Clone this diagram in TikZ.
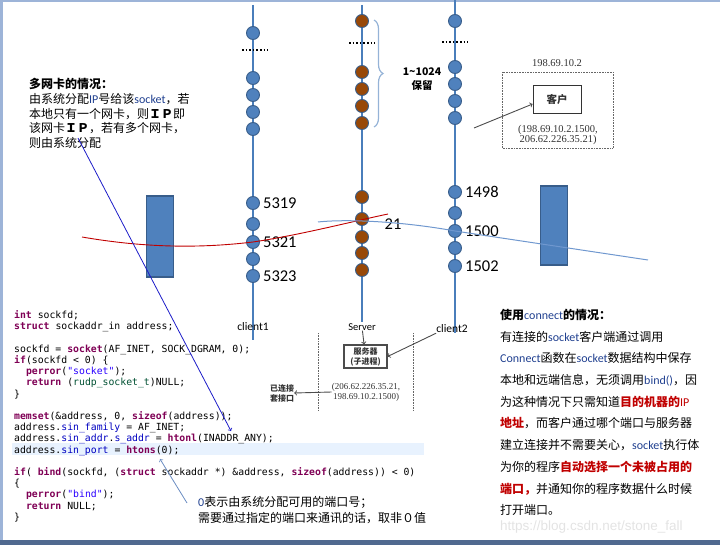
\documentclass[tikz,border=0pt]{standalone}
\usepackage{fontspec}
\setmainfont{Carlito}
\setmonofont{DejaVu Sans Mono}
\newfontfamily\cjk{Noto Sans CJK SC}
\newfontfamily\lat{Carlito}
\newfontfamily\wmfont{Liberation Sans}
\newfontfamily\scanserif{Liberation Serif}
\usetikzlibrary{positioning,decorations.pathreplacing}

\definecolor{portblue}{HTML}{4F81BD}
\definecolor{portedge}{HTML}{385D8A}
\definecolor{portbrown}{HTML}{984807}
\definecolor{colline}{HTML}{4A7EBB}
\definecolor{bracecol}{HTML}{95B3D7}
\definecolor{linkblue}{HTML}{7098CF}
\definecolor{nicred}{HTML}{C00000}
\definecolor{pointblue}{HTML}{1C1CC8}
\definecolor{steelarrow}{HTML}{6A8CC2}
\definecolor{kwpurple}{HTML}{7F0055}
\definecolor{strblue}{HTML}{2A00FF}
\definecolor{fieldblue}{HTML}{0000C0}
\definecolor{typegreen}{HTML}{005032}
\definecolor{hlrow}{HTML}{E8F2FE}
\definecolor{latinblue}{HTML}{1F3F8F}
\definecolor{framelight}{HTML}{9DB4D8}
\definecolor{framedark}{HTML}{50698F}

\newcommand\kw[1]{\textbf{\color{kwpurple}#1}}
\newcommand\strlit[1]{\textcolor{strblue}{#1}}
\newcommand\fld[1]{\textcolor{fieldblue}{#1}}
\newcommand\typ[1]{\textcolor{typegreen}{#1}}
\newcommand\en[1]{{\lat\color{latinblue}#1}}
\newcommand\warn[1]{{\bfseries\color{nicred}#1}}

\tikzset{
  port/.style={circle, draw=portedge, fill=portblue, line width=0.9pt, minimum size=13pt, inner sep=0pt},
  resv/.style={port, fill=portbrown},
  col/.style={draw=colline, line width=1.1pt},
  gapdots/.style={line width=1.6pt, dotted, black},
  num/.style={font=\fontsize{16.5}{18}\selectfont, inner sep=0pt},
  tag/.style={font=\fontsize{11.5}{13}\selectfont, inner sep=0pt},
  scan/.style={font=\cjk\bfseries\fontsize{8}{10}\selectfont, text=black!80, align=center, inner sep=0pt},
  note/.style={font=\cjk\fontsize{12}{14.8}\selectfont, align=left, inner sep=0pt},
  nic/.style={draw=portedge, fill=portblue, line width=1.2pt, minimum width=27pt, inner sep=0pt},
  grayarrow/.style={->, draw=black!70, line width=0.9pt},
  scandots/.style={draw=black!60, densely dotted, line width=0.6pt},
}

\begin{document}
\begin{tikzpicture}[x=1pt, y=-1pt]
\useasboundingbox (0,0) rectangle (720,545);

% frame
\fill[framelight] (0,0) rectangle (720,2);
\fill[framelight] (0,0) rectangle (3,545);
\fill[framedark] (0,540) rectangle (720,545);

% port columns
\coordinate (catop) at (253,5);
\coordinate (cabot) at (253,340);
\coordinate (svtop) at (362,5);
\coordinate (svbot) at (362,322);
\coordinate (cbtop) at (455,0);
\coordinate (cbbot) at (455,333);
\draw[col] (catop) -- (cabot);
\draw[col] (svtop) -- (svbot);
\draw[col] (cbtop) -- (cbbot);

\foreach \y [count=\i] in {33,78,95,112,129,203,224,242,259,276}
  \node[port] (ca\i) at (253,\y) {};
\foreach \y [count=\i] in {21,72,89,106,123,197,219,237,253,270}
  \node[resv] (sv\i) at (362,\y) {};
\foreach \y [count=\i] in {21,67,84,101,118,192,213,231,248,266}
  \node[port] (cb\i) at (455,\y) {};

\draw[gapdots] (242,50) -- (268,50);
\draw[gapdots] (349,43) -- (375,43);
\draw[gapdots] (442,42) -- (468,42);

% port numbers
\node[num, right=3pt of ca6] (n5319) {5319};
\node[num, right=3pt of ca8] (n5321) {5321};
\node[num, right=3pt of ca10] (n5323) {5323};
\node[num, right=3pt of cb6] (n1498) {1498};
\node[num, right=3pt of cb8] (n1500) {1500};
\node[num, right=3pt of cb10] (n1502) {1502};
\node[num] (n21) at (393,224) {21};

% reserved range
\coordinate (brtop) at (374,20);
\coordinate (brbot) at (374,127);
\draw[bracecol, line width=1.2pt, decorate, decoration={brace, amplitude=9pt}] (brtop) -- (brbot);
\node[font=\cjk\bfseries\fontsize{10.5}{14}\selectfont, align=center, inner sep=0pt] (resvtxt) at (422,79) {1\textasciitilde 1024\\保留};

% column tags
\node[tag] (cl1tag) at (253,327) {client1};
\node[tag, font=\fontsize{10.5}{12}\selectfont] (srvtag) at (362,327) {Server};
\node[tag] (cl2tag) at (452,329) {client2};

% network cards
\node[nic, minimum height=81pt] (nicA) at (160,236.5) {};
\node[nic, minimum height=79pt] (nicB) at (554,225.5) {};

% links
\coordinate (rA) at (82,237);
\coordinate (rB) at (388,214);
\draw[nicred, line width=0.9pt] (rA) .. controls (140,247) and (195,249) .. (ca8.center)
  .. controls (300,235) and (350,222) .. (rB);
\coordinate (bA) at (318,222);
\coordinate (bB) at (648,260);
\draw[linkblue, line width=1pt] (bA) .. controls (345,219) and (400,221) .. (cb8.center) -- (bB);

% left note
\node[note, anchor=north west] (multinic) at (29,78)
  {{\bfseries 多网卡的情况：}\\
   由系统分配\en{IP}号给该\en{socket}，若\\
   本地只有一个网卡，则\textbf{ＩＰ}即\\
   该网卡\textbf{ＩＰ}，若有多个网卡，\\
   则由系统分配};

% code
\fill[hlrow] (12,443) rectangle (424,455);
\node[anchor=north west, inner sep=0pt, align=left, font=\ttfamily\fontsize{9.8}{11.2}\selectfont] (code) at (14,310.5)
  {\kw{int} sockfd;\\
   \kw{struct} sockaddr\_in address;\\
   \mbox{}\\
   sockfd = \kw{socket}(AF\_INET, SOCK\_DGRAM, 0);\\
   \kw{if}(sockfd < 0) \{\\
   \ \ \kw{perror}(\strlit{"socket"});\\
   \ \ \kw{return} (\typ{rudp\_socket\_t})NULL;\\
   \}\\
   \mbox{}\\
   \kw{memset}(\&address, 0, \kw{sizeof}(address));\\
   address.\fld{sin\_family} = AF\_INET;\\
   address.\fld{sin\_addr}.\fld{s\_addr} = \kw{htonl}(INADDR\_ANY);\\
   address.\fld{sin\_port} = \kw{htons}(0);\\
   \mbox{}\\
   \kw{if}( \kw{bind}(sockfd, (\kw{struct} sockaddr *) \&address, \kw{sizeof}(address)) < 0)\\
   \{\\
   \ \ \kw{perror}(\strlit{"bind"});\\
   \ \ \kw{return} NULL;\\
   \}};

% port note
\node[note, font=\cjk\fontsize{12}{16}\selectfont, anchor=north west] (zeronote) at (198,496)
  {\en{0}表示由系统分配可用的端口号；\\
   需要通过指定的端口来通讯的话，取非０值};

\coordinate (mfA) at (78,138);
\coordinate (mfB) at (231,431);
\draw[->, pointblue, line width=0.8pt] (mfA) -- (mfB);
\coordinate (znA) at (187,503);
\coordinate (znB) at (160,459);
\draw[->, steelarrow, line width=0.8pt] (znA) -- (znB);

% connect note
\node[note, font=\cjk\fontsize{12}{21.7}\selectfont, anchor=north west] (connnote) at (500,309)
  {{\bfseries 使用}\en{connect}{\bfseries 的情况：}\\
   有连接的\en{socket}客户端通过调用\\
   \en{Connect}函数在\en{socket}数据结构中保存\\
   本地和远端信息，无须调用\en{bind()}，因\\
   为这种情况下只需知道\warn{目的机器的}{\lat\color{nicred}IP}\\
   \warn{地址}，而客户通过哪个端口与服务器\\
   建立连接并不需要关心，\en{socket}执行体\\
   为你的程序\warn{自动选择一个未被占用的}\\
   \warn{端口，}并通知你的程序数据什么时候\\
   打开端口。};
\node[anchor=west, inner sep=0pt, text=black!11, font=\wmfont\fontsize{13.5}{15}\selectfont] (wmark) at (500,527) {https://blog.csdn.net/stone\_fall};

% client host figure
\draw[scandots] (502,72) rectangle (613,148);
\node[scan, font=\scanserif\fontsize{10.5}{11}\selectfont] (hostip) at (557,63) {198.69.10.2};
\node[scan, draw=black!80, line width=0.8pt, minimum width=48pt, minimum height=28pt, font=\cjk\bfseries\fontsize{10.5}{11}\selectfont] (client) at (557,99) {客户};
\node[scan, font=\scanserif\fontsize{10.5}{10.5}\selectfont] (cpair) at (558,135) {(198.69.10.2.1500,\\206.62.226.35.21)};
\coordinate (ptrA) at (474,128);
\draw[grayarrow] (ptrA) -- ([yshift=-5pt]client.west);

% server figure
\draw[scandots] (318,333) -- (318,410);
\draw[scandots] (413,333) -- (413,410);
\node[scan, draw=black!70, line width=1.2pt, minimum width=43pt, minimum height=23pt] (srvbox) at (365.5,356.5) {服务器\\(子进程)};
\node[scan, font=\scanserif\fontsize{9}{10}\selectfont] (spair) at (366,392) {(206.62.226.35.21,\\198.69.10.2.1500)};
\node[scan] (joined) at (282,393) {已连接\\套接口};
\draw[grayarrow] (srvtag) -- (srvbox);
\draw[grayarrow] (cl2tag.south west) -- (srvbox.east);
\draw[grayarrow] (spair.west) -- (joined.east);
\end{tikzpicture}
\end{document}
